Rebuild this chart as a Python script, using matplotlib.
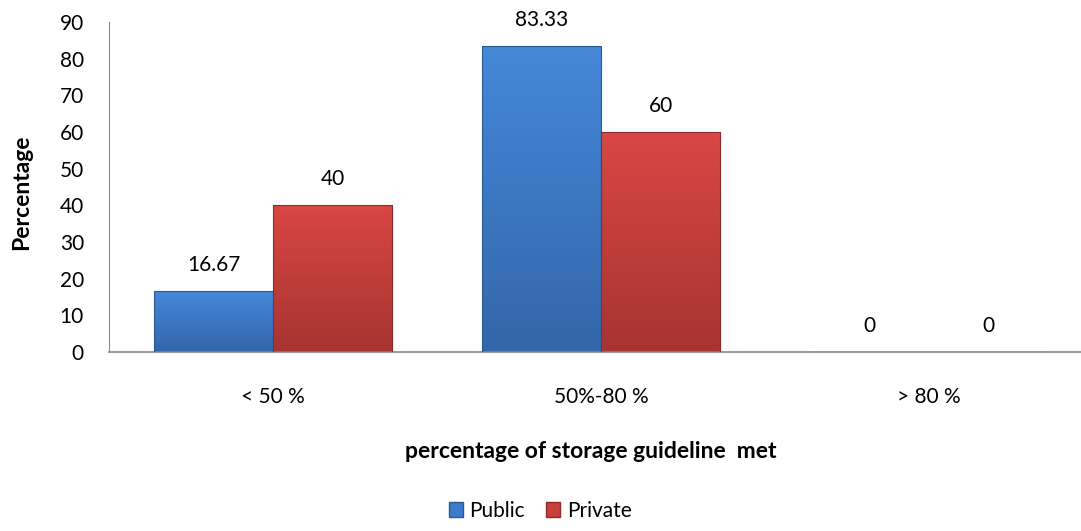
import numpy as np
import matplotlib.pyplot as plt
from matplotlib.patches import Patch

categories = ["< 50 %", "50%-80 %", "> 80 %"]
public = [16.67, 83.33, 0]
private = [40, 60, 0]
public_labels = ["16.67", "83.33", "0"]
private_labels = ["40", "60", "0"]

plt.rcParams['font.family'] = ['Lato', 'DejaVu Sans']

W, H = 1081, 531
fig = plt.figure(figsize=(W / 100, H / 100), dpi=100)
ax = fig.add_axes([109 / W, (H - 352) / H, (1093 - 109) / W, 330 / H])

x = np.arange(len(categories))
bw = 0.363


def shade(ax, bars, top, bottom):
    # vertical gradient, lighter at top
    grad = np.linspace(0, 1, 64).reshape(-1, 1)
    c1 = np.array(plt.matplotlib.colors.to_rgb(top))
    c2 = np.array(plt.matplotlib.colors.to_rgb(bottom))
    img = c1 * (1 - grad[..., None]) + c2 * grad[..., None]
    for b in bars:
        h = b.get_height()
        if h <= 0:
            continue
        x0 = b.get_x()
        im = ax.imshow(img, extent=[x0, x0 + b.get_width(), 0, h],
                       aspect='auto', origin='upper', zorder=2)
        im.set_clip_path(b)


b1 = ax.bar(x - bw / 2, public, bw, color="#3c7bcc", edgecolor="#2a5a95",
            linewidth=0.8, zorder=3)
b2 = ax.bar(x + bw / 2, private, bw, color="#c8403c", edgecolor="#8c2c29",
            linewidth=0.8, zorder=3)
for b in list(b1) + list(b2):
    b.set_facecolor("none")
shade(ax, b1, "#4588d8", "#3366aa")
shade(ax, b2, "#d84743", "#a83431")

fs = 15
for i in range(len(categories)):
    ax.annotate(public_labels[i], (x[i] - bw / 2, public[i]), xytext=(0, 26),
                textcoords="offset pixels", ha="center", va="center", fontsize=fs)
    ax.annotate(private_labels[i], (x[i] + bw / 2, private[i]), xytext=(0, 26),
                textcoords="offset pixels", ha="center", va="center", fontsize=fs)

ax.set_xlim(-0.5, 2.5)
ax.set_ylim(0, 90)
ax.set_yticks(range(0, 91, 10))
ax.set_xticks(x)
ax.set_xticklabels(categories)
ax.tick_params(axis='y', length=0, labelsize=fs, pad=18)
ax.tick_params(axis='x', length=0, labelsize=fs, pad=25)
for s in ["top", "right"]:
    ax.spines[s].set_visible(False)
ax.spines["left"].set_color("#888888")
ax.spines["bottom"].set_color("#888888")
ax.spines["bottom"].set_linewidth(1.2)

fig.text(22 / W, 1 - 192 / H, "Percentage", rotation=90, ha="center",
         va="center", fontsize=16.5, fontweight="bold")
fig.text(591 / W, 1 - 452 / H, "percentage of storage guideline  met",
         ha="center", va="center", fontsize=16.5, fontweight="bold")

handles = [Patch(facecolor="#3c7bcc", edgecolor="#2a5a95", label="Public"),
           Patch(facecolor="#c8403c", edgecolor="#8c2c29", label="Private")]
fig.legend(handles=handles, loc="center", bbox_to_anchor=(540 / W, 1 - 511 / H),
           ncol=2, frameon=False, fontsize=fs, handlelength=0.7,
           handleheight=0.7, handletextpad=0.3, columnspacing=1.0)

fig.savefig("out.png", dpi=100)
